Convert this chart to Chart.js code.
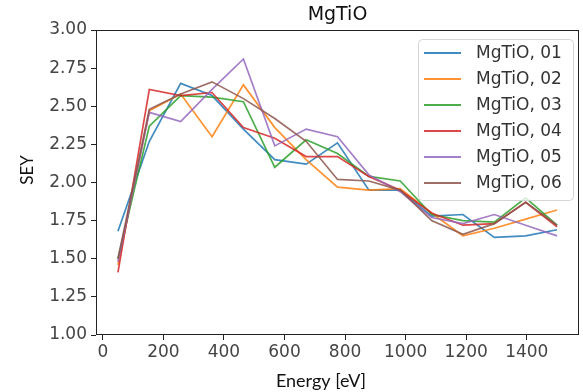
<!DOCTYPE html>
<html>
<head>
<meta charset="utf-8">
<script src="https://cdn.jsdelivr.net/npm/chart.js@4.4.0/dist/chart.umd.min.js"></script>
<style>
  html, body { margin: 0; padding: 0; background: #fff; }
  #wrap { width: 583px; height: 392px; }
</style>
</head>
<body>
<div id="wrap"><canvas id="seyChart"></canvas></div>
<script>
// beam energy, 15 steps from 50 to 1500 eV
const energy = [50, 153.6, 257.1, 360.7, 464.3, 567.9, 671.4, 775, 878.6, 982.1, 1085.7, 1189.3, 1292.9, 1396.4, 1500];

const sey01 = [1.68, 2.27, 2.65, 2.57, 2.35, 2.15, 2.12, 2.26, 1.95, 1.95, 1.78, 1.79, 1.64, 1.65, 1.69];
const sey02 = [1.46, 2.47, 2.58, 2.30, 2.64, 2.36, 2.15, 1.97, 1.95, 1.96, 1.80, 1.65, 1.70, 1.76, 1.82];
const sey03 = [1.50, 2.37, 2.57, 2.56, 2.53, 2.10, 2.28, 2.19, 2.04, 2.01, 1.79, 1.75, 1.74, 1.90, 1.72];
const sey04 = [1.41, 2.61, 2.57, 2.59, 2.36, 2.29, 2.17, 2.17, 2.04, 1.95, 1.80, 1.72, 1.73, 1.87, 1.71];
const sey05 = [1.48, 2.46, 2.40, 2.61, 2.81, 2.24, 2.35, 2.30, 2.05, 1.94, 1.77, 1.73, 1.79, 1.72, 1.65];
const sey06 = [1.50, 2.48, 2.58, 2.66, 2.55, 2.42, 2.27, 2.02, 2.01, 1.95, 1.75, 1.66, 1.73, 1.87, 1.72];

const seriesLabels = ["MgTiO, 01", "MgTiO, 02", "MgTiO, 03", "MgTiO, 04", "MgTiO, 05", "MgTiO, 06"];
const seriesValues = [sey01, sey02, sey03, sey04, sey05, sey06];
const seriesColors = ["rgba(31,119,180,0.85)", "rgba(255,127,14,0.85)", "rgba(44,160,44,0.85)",
                      "rgba(214,39,40,0.85)", "rgba(148,103,189,0.85)", "rgba(140,86,75,0.85)"];

const xTicks = [0, 200, 400, 600, 800, 1000, 1200, 1400];
const yTicks = [1.00, 1.25, 1.50, 1.75, 2.00, 2.25, 2.50, 2.75, 3.00];

const tickFont = { family: "DejaVu Sans", size: 17 };

// frame, title, axis names and the legend box (matplotlib style)
const decorations = {
    id: "decorations",
    afterDraw(chart) {
        const { ctx, chartArea: a } = chart;
        ctx.save();
        ctx.strokeStyle = "#222";
        ctx.lineWidth = 1;
        ctx.strokeRect(a.left + 0.5, a.top + 0.5, a.right - a.left - 1, a.bottom - a.top - 1);

        ctx.fillStyle = "#111";
        ctx.font = "19px 'DejaVu Sans'";
        ctx.textAlign = "center";
        ctx.textBaseline = "alphabetic";
        ctx.fillText("MgTiO", (a.left + a.right) / 2, 20);

        ctx.font = "18px Lato";
        ctx.textBaseline = "middle";
        ctx.fillText("Energy [eV]", 321, 381);
        ctx.save();
        ctx.translate(28, 170);
        ctx.rotate(-Math.PI / 2);
        ctx.font = "17px Lato";
        ctx.fillText("SEY", 0, 0);
        ctx.restore();

        // legend
        const bx = a.right - 161, by = a.top + 9, bw = 155, bh = 161;
        ctx.beginPath();
        ctx.roundRect(bx + 0.5, by + 0.5, bw, bh, 4);
        ctx.fillStyle = "rgba(255,255,255,0.8)";
        ctx.fill();
        ctx.strokeStyle = "#d4d4d4";
        ctx.stroke();
        ctx.font = "17px 'DejaVu Sans'";
        ctx.textAlign = "left";
        ctx.textBaseline = "middle";
        seriesLabels.forEach((lbl, i) => {
            const yy = by + 14 + i * 26;
            ctx.strokeStyle = seriesColors[i];
            ctx.lineWidth = 2;
            ctx.beginPath();
            ctx.moveTo(bx + 6, yy);
            ctx.lineTo(bx + 43, yy);
            ctx.stroke();
            ctx.fillStyle = "#333";
            ctx.fillText(lbl, bx + 58, yy + 1);
        });
        ctx.restore();
    }
};

const ctx = document.getElementById("seyChart").getContext("2d");

new Chart(ctx, {
    type: "line",
    data: {
        datasets: seriesValues.map((vals, i) => ({
            label: seriesLabels[i],
            data: vals.map((v, k) => ({ x: energy[k], y: v })),
            borderColor: seriesColors[i],
            backgroundColor: seriesColors[i],
            borderWidth: 1.7,
            pointRadius: 0,
            tension: 0,
            order: seriesValues.length - i   // last series on top, like matplotlib
        }))
    },
    options: {
        responsive: true,
        maintainAspectRatio: false,
        animation: false,
        layout: { padding: { top: 30, right: 4, left: 0, bottom: 0 } },
        scales: {
            x: {
                type: "linear",
                min: -22.5,
                max: 1572.5,
                afterBuildTicks: s => { s.ticks = xTicks.map(v => ({ value: v })); },
                afterFit: s => { s.height = 57; },
                ticks: { color: "#444", font: tickFont, padding: 2, maxRotation: 0, callback: v => String(v) },
                grid: { drawOnChartArea: false, drawTicks: true, tickLength: 5, color: "#222" },
                border: { display: false }
            },
            y: {
                min: 1,
                max: 3,
                afterBuildTicks: s => { s.ticks = yTicks.map(v => ({ value: v })); },
                afterFit: s => { s.width = 96; },
                ticks: { color: "#444", font: tickFont, padding: 4, callback: v => v.toFixed(2) },
                grid: { drawOnChartArea: false, drawTicks: true, tickLength: 5, color: "#222" },
                border: { display: false }
            }
        },
        plugins: {
            legend: { display: false },
            title: { display: false },
            tooltip: { enabled: false }
        }
    },
    plugins: [decorations]
});
</script>
</body>
</html>
